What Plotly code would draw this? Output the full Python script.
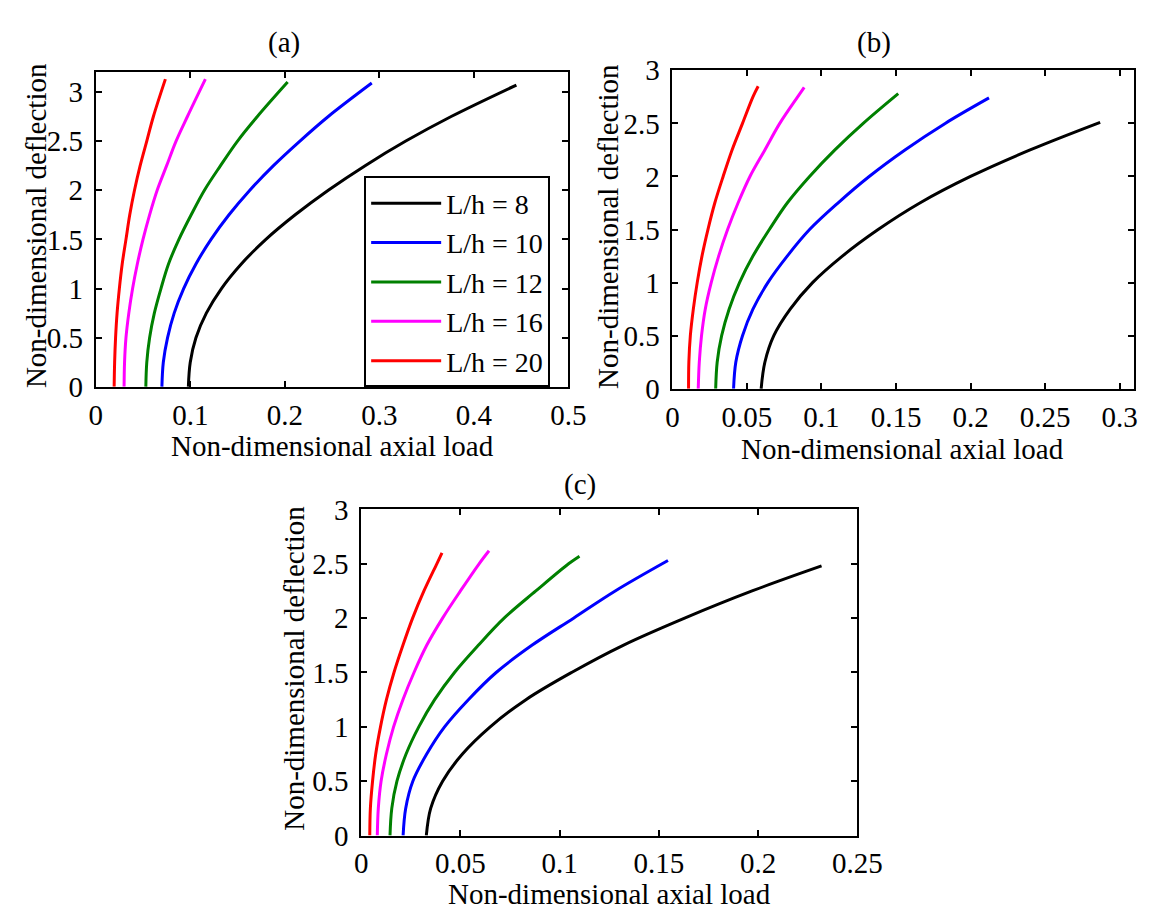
import plotly.graph_objects as go

ratios = ["L/h = 8", "L/h = 10", "L/h = 12", "L/h = 16", "L/h = 20"]
colors = ["#000000", "#0000ff", "#008000", "#ff00ff", "#ff0000"]

steps = [0, 0.25, 0.5, 0.75, 1.0, 1.25, 1.5, 1.75, 2.0, 2.25, 2.5, 2.75]

# (a)
a_defl = [
    steps + [3.07],
    steps + [3.09],
    steps + [3.10],
    steps + [3.13],
    steps + [3.13],
]
a_load = [
    [0.098, 0.100, 0.106, 0.117, 0.133, 0.154, 0.180, 0.211, 0.246, 0.285, 0.328, 0.376, 0.445],
    [0.070, 0.0715, 0.076, 0.083, 0.093, 0.106, 0.122, 0.141, 0.163, 0.188, 0.216, 0.246, 0.292],
    [0.053, 0.054, 0.057, 0.062, 0.069, 0.077, 0.088, 0.101, 0.115, 0.132, 0.150, 0.171, 0.203],
    [0.030, 0.0305, 0.032, 0.035, 0.039, 0.044, 0.050, 0.057, 0.065, 0.075, 0.085, 0.097, 0.116],
    [0.0195, 0.020, 0.021, 0.0226, 0.025, 0.028, 0.032, 0.036, 0.041, 0.047, 0.054, 0.061, 0.0737],
]

# (b)
b_defl = [
    steps[:10] + [2.51],
    steps[:11] + [2.74],
    steps[:11] + [2.78],
    steps + [2.84],
    steps + [2.85],
]
b_load = [
    [0.0595, 0.062, 0.068, 0.079, 0.094, 0.114, 0.138, 0.166, 0.200, 0.240, 0.287],
    [0.041, 0.0425, 0.047, 0.054, 0.064, 0.077, 0.092, 0.111, 0.132, 0.156, 0.183, 0.2124],
    [0.029, 0.030, 0.033, 0.038, 0.045, 0.054, 0.065, 0.077, 0.092, 0.109, 0.128, 0.1515],
    [0.0173, 0.018, 0.0195, 0.022, 0.026, 0.031, 0.037, 0.044, 0.052, 0.062, 0.072, 0.084, 0.0884],
    [0.0108, 0.011, 0.012, 0.014, 0.0166, 0.0198, 0.0238, 0.0284, 0.034, 0.040, 0.047, 0.054, 0.0575],
]

# (c)
c_defl = [
    steps[:10] + [2.48],
    steps[:10] + [2.53],
    steps[:11] + [2.57],
    steps[:11] + [2.62],
    steps[:11] + [2.60],
]
c_load = [
    [0.0328, 0.035, 0.041, 0.051, 0.065, 0.083, 0.106, 0.132, 0.163, 0.197, 0.232],
    [0.0211, 0.0224, 0.026, 0.033, 0.042, 0.054, 0.068, 0.086, 0.107, 0.128, 0.1546],
    [0.0145, 0.0154, 0.018, 0.0226, 0.029, 0.037, 0.047, 0.059, 0.072, 0.088, 0.1045, 0.110],
    [0.0081, 0.0086, 0.010, 0.0127, 0.0163, 0.021, 0.0266, 0.033, 0.041, 0.050, 0.0594, 0.0644],
    [0.0043, 0.0046, 0.0057, 0.0073, 0.0097, 0.0127, 0.0165, 0.021, 0.0259, 0.0316, 0.0381, 0.0407],
]

W, H = 1167, 915
FONT = "Liberation Serif"
TICK_FS = 29
TEXT_FS = 29

fig = go.Figure()

panels = [(a_load, a_defl, "x", "y"), (b_load, b_defl, "x2", "y2"), (c_load, c_defl, "x3", "y3")]
for p, (loads, defls, xa, ya) in enumerate(panels):
    for i in range(5):
        fig.add_trace(go.Scatter(
            x=loads[i], y=defls[i], mode="lines", name=ratios[i],
            line=dict(color=colors[i], width=3, shape="spline", smoothing=1.0),
            xaxis=xa, yaxis=ya, showlegend=(p == 0)))


def px_x(v):
    return v / W


def px_y(v):
    return 1 - v / H


axis_style = dict(showline=True, linecolor="black", linewidth=2, mirror="ticks",
                  ticks="inside", ticklen=6, tickwidth=1.5, tickcolor="black",
                  showgrid=False, zeroline=False,
                  tickfont=dict(family=FONT, size=TICK_FS, color="black"))
xstyle = dict(axis_style, ticklabelstandoff=1)
ystyle = dict(axis_style, ticklabelstandoff=5)

fig.update_layout(
    width=W, height=H, margin=dict(l=0, r=0, t=0, b=0),
    paper_bgcolor="white", plot_bgcolor="white",
    font=dict(family=FONT, size=TEXT_FS, color="black"),
    xaxis=dict(domain=[px_x(83), px_x(569)], range=[0, 0.5], dtick=0.1, anchor="y", **xstyle),
    yaxis=dict(domain=[px_y(376), px_y(50)], range=[0, 3.2], tickvals=[0, 0.5, 1, 1.5, 2, 2.5, 3],
               anchor="x", **ystyle),
    xaxis2=dict(domain=[px_x(676), px_x(1151)], range=[0, 0.31], dtick=0.05, anchor="y2", **xstyle),
    yaxis2=dict(domain=[px_y(378), px_y(48)], range=[0, 3], dtick=0.5, anchor="x2", **ystyle),
    xaxis3=dict(domain=[px_x(356), px_x(866)], range=[0, 0.25], dtick=0.05, anchor="y3", **xstyle),
    yaxis3=dict(domain=[px_y(841), px_y(503)], range=[0, 3], dtick=0.5, anchor="x3", **ystyle),
    legend=dict(x=px_x(359), y=px_y(158), xanchor="left", yanchor="top",
                bordercolor="black", borderwidth=2, bgcolor="white", itemwidth=70,
                font=dict(family=FONT, size=28, color="black"), tracegroupgap=0),
)

labels = [
    ("(a)", 277, 19, 0), ("(b)", 883, 19, 0), ("(c)", 581, 477, 0),
    ("Non-dimensional axial load", 326, 437, 0),
    ("Non-dimensional axial load", 913, 440, 0),
    ("Non-dimensional axial load", 611, 902, 0),
    ("Non-dimensional deflection", 21, 209, -90),
    ("Non-dimensional deflection", 609, 210, -90),
    ("Non-dimensional deflection", 286, 668, -90),
]
for text, x, y, ang in labels:
    fig.add_annotation(text=text, x=px_x(x), y=px_y(y), xref="paper", yref="paper",
                       xanchor="center", yanchor="middle", showarrow=False, textangle=ang,
                       font=dict(family=FONT, size=TEXT_FS, color="black"))

fig.write_html("out.html")
